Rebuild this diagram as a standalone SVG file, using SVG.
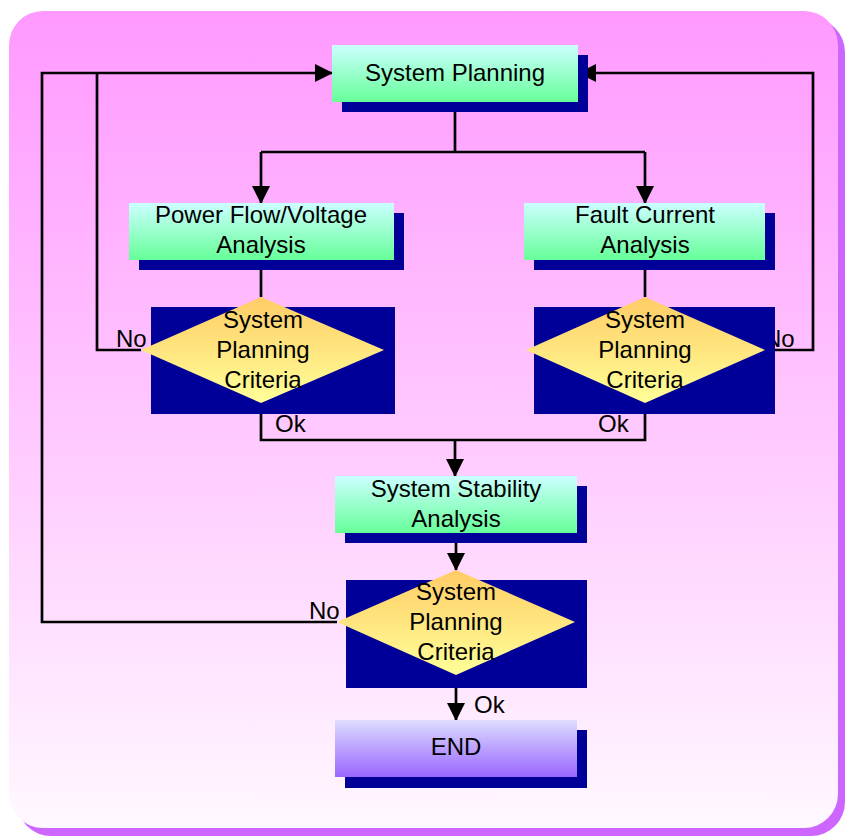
<svg xmlns="http://www.w3.org/2000/svg" width="845" height="836" viewBox="0 0 845 836">
  <defs>
    <linearGradient id="bg" x1="0" y1="0" x2="0" y2="1">
      <stop offset="0" stop-color="#FF99FF"/>
      <stop offset="0.55" stop-color="#FFCCFF"/>
      <stop offset="1" stop-color="#FFF8FF"/>
    </linearGradient>
    <linearGradient id="green" x1="0" y1="0" x2="0" y2="1">
      <stop offset="0" stop-color="#CCFFFF"/>
      <stop offset="1" stop-color="#66FF99"/>
    </linearGradient>
    <linearGradient id="gold" x1="0" y1="0" x2="0" y2="1">
      <stop offset="0" stop-color="#FFCC66"/>
      <stop offset="1" stop-color="#FFFF99"/>
    </linearGradient>
    <linearGradient id="violet" x1="0" y1="0" x2="0" y2="1">
      <stop offset="0" stop-color="#DDDDFF"/>
      <stop offset="1" stop-color="#9966FF"/>
    </linearGradient>
    <marker id="arrow" viewBox="0 0 18 18" refX="17" refY="9" markerWidth="18" markerHeight="18" orient="auto" markerUnits="userSpaceOnUse">
      <path d="M0,0 L18,9 L0,18 Z" fill="#000"/>
    </marker>
  </defs>
  <style>
    text { font-family: "Liberation Sans", Arial, sans-serif; font-size: 24px; fill: #000; text-anchor: middle; }
    .lbl { text-anchor: start; }
    .shadow { fill: #000099; }
    .box { fill: url(#green); }
    .end { fill: url(#violet); }
    .dia { fill: url(#gold); }
    .wire { fill: none; stroke: #000; stroke-width: 2.7; }
  </style>

  <!-- backdrop panel -->
  <rect x="17" y="18" width="828" height="818" rx="34" fill="#CC66FF"/>
  <rect x="9" y="11" width="829" height="817" rx="34" fill="url(#bg)"/>

  <!-- connectors -->
  <g id="connectors">
    <path class="wire" d="M455,102 V152 M261,152 H645"/>
    <path class="wire" d="M261,152 V203" marker-end="url(#arrow)"/>
    <path class="wire" d="M645,152 V203" marker-end="url(#arrow)"/>
    <path class="wire" d="M261,260 V297"/>
    <path class="wire" d="M645,260 V297"/>
    <path class="wire" d="M141,350 H97 V73"/>
    <path class="wire" d="M337,622 H42 V73 H332" marker-end="url(#arrow)"/>
    <path class="wire" d="M765,350 H813 V73 H579" marker-end="url(#arrow)"/>
    <path class="wire" d="M261,403 V440 H645 V403"/>
    <path class="wire" d="M455,440 V476" marker-end="url(#arrow)"/>
    <path class="wire" d="M456,533 V570" marker-end="url(#arrow)"/>
    <path class="wire" d="M456,675 V720" marker-end="url(#arrow)"/>
    <text class="lbl" x="116" y="347">No</text>
    <text class="lbl" x="764" y="347">No</text>
    <text class="lbl" x="275" y="432">Ok</text>
    <text class="lbl" x="598" y="432">Ok</text>
    <text class="lbl" x="309" y="619">No</text>
    <text class="lbl" x="474" y="713">Ok</text>
  </g>

  <g id="system-planning">
    <rect class="shadow" x="342" y="55" width="246" height="57"/>
    <rect class="box" x="332" y="45" width="246" height="57"/>
    <text x="455" y="81">System Planning</text>
  </g>

  <g id="power-flow">
    <rect class="shadow" x="139" y="213" width="265" height="57"/>
    <rect class="box" x="129" y="203" width="265" height="57"/>
    <text x="261" y="223">Power Flow/Voltage</text>
    <text x="261" y="253">Analysis</text>
  </g>

  <g id="fault-current">
    <rect class="shadow" x="534" y="213" width="241" height="57"/>
    <rect class="box" x="524" y="203" width="241" height="57"/>
    <text x="645" y="223">Fault Current</text>
    <text x="645" y="253">Analysis</text>
  </g>

  <g id="criteria-left">
    <rect class="shadow" x="151" y="307" width="244" height="107"/>
    <polygon class="dia" points="261,297 384,350 261,403 141,350"/>
    <text x="263" y="328">System</text>
    <text x="263" y="358">Planning</text>
    <text x="263" y="388">Criteria</text>
  </g>

  <g id="criteria-right">
    <rect class="shadow" x="534" y="307" width="241" height="107"/>
    <polygon class="dia" points="645,297 765,350 645,403 526,350"/>
    <text x="645" y="328">System</text>
    <text x="645" y="358">Planning</text>
    <text x="645" y="388">Criteria</text>
  </g>

  <g id="stability">
    <rect class="shadow" x="345" y="486" width="242" height="57"/>
    <rect class="box" x="335" y="476" width="242" height="57"/>
    <text x="456" y="497">System Stability</text>
    <text x="456" y="527">Analysis</text>
  </g>

  <g id="criteria-bottom">
    <rect class="shadow" x="346" y="580" width="241" height="108"/>
    <polygon class="dia" points="456,570 575,622 456,675 337,622"/>
    <text x="456" y="600">System</text>
    <text x="456" y="630">Planning</text>
    <text x="456" y="660">Criteria</text>
  </g>

  <g id="end">
    <rect class="shadow" x="345" y="730" width="242" height="58"/>
    <rect class="end" x="335" y="720" width="242" height="57"/>
    <text x="456" y="755">END</text>
  </g>
</svg>
